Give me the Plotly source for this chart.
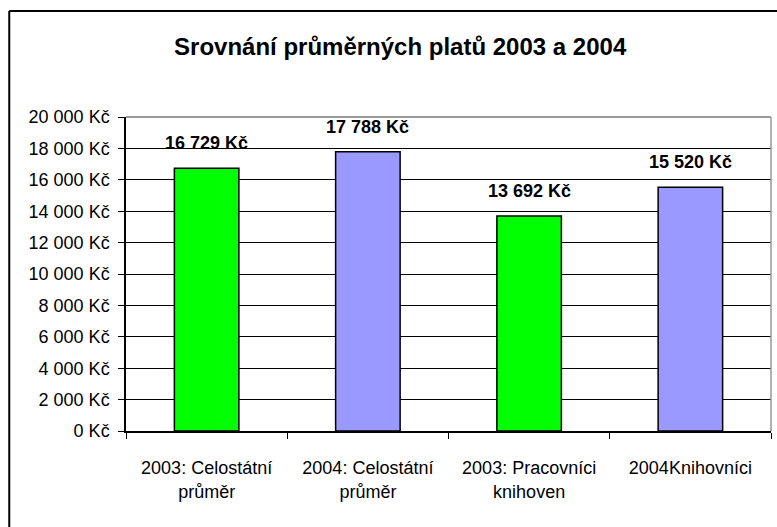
import plotly.graph_objects as go

# ---------------------------------------------------------------------------
# Data
# ---------------------------------------------------------------------------
categories = [
    "2003: Celostátní<br>průměr",
    "2004: Celostátní<br>průměr",
    "2003: Pracovníci<br>knihoven",
    "2004Knihovníci",
]
salaries = [16729, 17788, 13692, 15520]
bar_colors = ["#00FF00", "#9999FF", "#00FF00", "#9999FF"]

tick_values = list(range(0, 20001, 2000))
tick_labels = [f"{v:,}".replace(",", " ") + " Kč" for v in tick_values]

FONT = "Liberation Sans, Arial, sans-serif"


def fmt_kc(v):
    return f"{v:,}".replace(",", " ") + " Kč"


fig = go.Figure(go.Bar(
    x=categories,
    y=salaries,
    marker=dict(color=bar_colors, line=dict(color="black", width=1.5)),
    width=0.4,
    hoverinfo="skip",
))

# value labels above bars
for cat, val in zip(categories, salaries):
    fig.add_annotation(
        x=cat, y=val, text=f"<b>{fmt_kc(val)}</b>",
        showarrow=False, yanchor="middle", yshift=25,
        font=dict(family=FONT, size=18, color="black"),
    )

# outer chart frame (left and top edges visible)
fig.add_shape(type="line", xref="paper", yref="paper",
              x0=-0.181, x1=1.05, y0=1.3376, y1=1.3376,
              line=dict(color="black", width=2))
fig.add_shape(type="line", xref="paper", yref="paper",
              x0=-0.181, x1=-0.181, y0=1.3376, y1=-0.35,
              line=dict(color="black", width=2))

# plot area top / right border in gray
fig.add_shape(type="line", xref="paper", yref="paper", layer="above",
              x0=0, x1=1, y0=1, y1=1, line=dict(color="#999999", width=2))
fig.add_shape(type="line", xref="paper", yref="paper", layer="above",
              x0=1, x1=1, y0=0, y1=1, line=dict(color="#999999", width=1.5))

fig.update_layout(
    width=777, height=527,
    margin=dict(l=126, r=6, t=117, b=96),
    paper_bgcolor="white",
    plot_bgcolor="white",
    showlegend=False,
    font=dict(family=FONT, size=18, color="black"),
    title=dict(
        text="<b>Srovnání průměrných platů 2003 a 2004</b>",
        x=0.515, xanchor="center", y=1 - 47 / 527, yanchor="middle",
        font=dict(family=FONT, size=24, color="black"),
    ),
    xaxis=dict(
        showline=True, linecolor="black", linewidth=1.5,
        ticks="outside", tickson="boundaries", ticklen=6, tickcolor="black",
        showgrid=False, ticklabelstandoff=20,
        tickfont=dict(family=FONT, size=18),
    ),
    yaxis=dict(
        range=[0, 20000],
        tickvals=tick_values, ticktext=tick_labels,
        showline=True, linecolor="black", linewidth=1.5,
        ticks="outside", ticklen=6, tickcolor="black",
        showgrid=True, gridcolor="black", gridwidth=1,
        zeroline=False, ticklabelstandoff=5,
        tickfont=dict(family=FONT, size=18),
    ),
)

# drop the browser's default body margin so the figure sits at the page origin
fig.write_html(
    "out.html",
    config={"displayModeBar": False},
    post_script="document.body.style.margin='0';",
)
